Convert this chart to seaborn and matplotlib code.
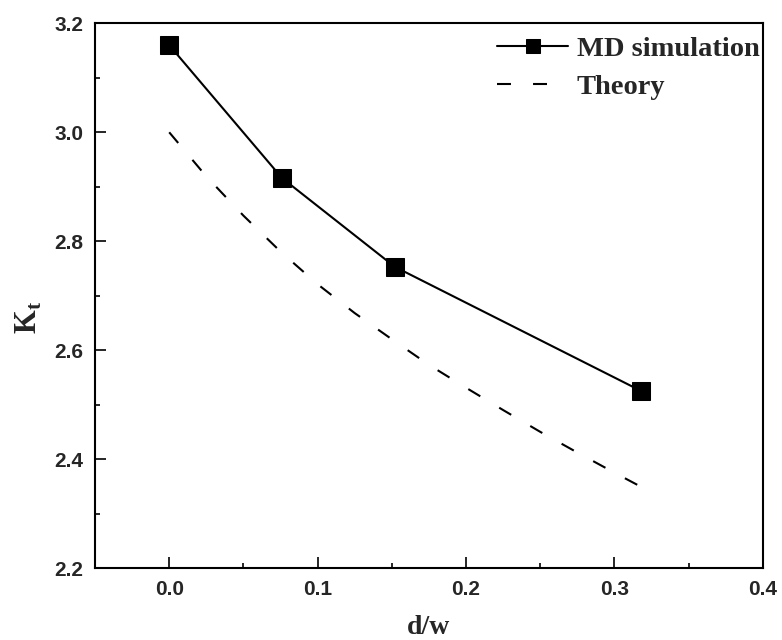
import matplotlib
matplotlib.use('Agg')
import matplotlib.pyplot as plt
from matplotlib.ticker import MultipleLocator
import numpy as np
import pandas as pd
import seaborn as sns

# MD simulation points
md_x = [0.0, 0.076, 0.152, 0.318]
md_kt = [3.160, 2.916, 2.753, 2.525]

# theory curve, sampled along the dashed line
th_x = [0.0, 0.025, 0.05, 0.075, 0.1, 0.125, 0.15, 0.175, 0.2,
        0.225, 0.25, 0.275, 0.3, 0.318]
th_kt = [3.000, 2.919, 2.847, 2.781, 2.721, 2.668, 2.620, 2.573, 2.531,
         2.490, 2.450, 2.412, 2.375, 2.349]

x_ticks = [0.0, 0.1, 0.2, 0.3, 0.4]
y_ticks = [2.2, 2.4, 2.6, 2.8, 3.0, 3.2]

sns.set_style('ticks')
plt.rcParams['font.family'] = ['Liberation Serif', 'DejaVu Serif']
plt.rcParams['mathtext.fontset'] = 'custom'
plt.rcParams['mathtext.bf'] = 'Liberation Serif:bold'
plt.rcParams['mathtext.rm'] = 'Liberation Serif:bold'

md = pd.DataFrame({'x': md_x, 'kt': md_kt})
th = pd.DataFrame({'x': th_x, 'kt': th_kt})

fig = plt.figure(figsize=(7.82, 6.40), dpi=100)
ax = fig.add_axes([0.1215, 0.1125, 0.854, 0.851])

sns.lineplot(data=md, x='x', y='kt', ax=ax, color='black', lw=1.5,
             marker='s', markersize=13.5, markeredgecolor='black',
             label='MD simulation')
sns.lineplot(data=th, x='x', y='kt', ax=ax, color='black', lw=1.5,
             linestyle=(0, (6.7, 10.6)), label='Theory')

ax.set_xlim(-0.05, 0.4)
ax.set_ylim(2.2, 3.2)
ax.set_xticks(x_ticks)
ax.set_yticks(y_ticks)
ax.xaxis.set_minor_locator(MultipleLocator(0.05))
ax.yaxis.set_minor_locator(MultipleLocator(0.1))
ax.set_xticklabels([f'{v:.1f}' for v in x_ticks], family='Liberation Sans',
                   fontweight='bold', fontsize=15)
ax.set_yticklabels([f'{v:.1f}' for v in y_ticks], family='Liberation Sans',
                   fontweight='bold', fontsize=15)
ax.tick_params(which='major', direction='in', length=8, width=1.4,
               top=False, right=False, pad=8.5)
ax.tick_params(which='minor', direction='in', length=3.6, width=1.4,
               top=False, right=False)
for s in ax.spines.values():
    s.set_linewidth(1.5)
    s.set_color('black')

ax.set_xlabel('d/w', fontsize=20, fontweight='bold', labelpad=12)
ax.set_ylabel(r'$\mathbf{K}_\mathbf{t}$', fontsize=22)
ax.yaxis.set_label_coords(-0.077, 0.46)

leg = ax.legend(loc='upper right', bbox_to_anchor=(1.012, 0.998),
                frameon=False,
                prop={'weight': 'bold', 'size': 20.5}, handlelength=2.5,
                handletextpad=0.3, borderaxespad=0.0, markerscale=0.75,
                labelspacing=0.42)

fig.savefig('out.png', dpi=100)
